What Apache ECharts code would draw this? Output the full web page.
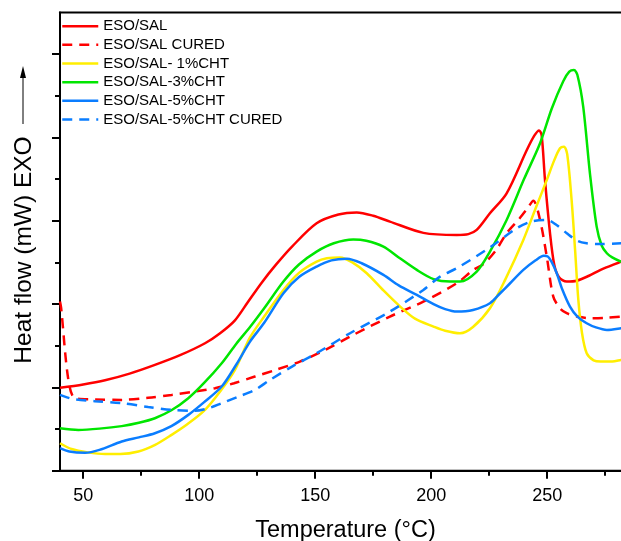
<!DOCTYPE html>
<html>
<head>
<meta charset="utf-8">
<script src="https://cdn.jsdelivr.net/npm/echarts@6/dist/echarts.min.js"></script>
<style>
	html, body { margin: 0; padding: 0; background: #fff; }
	#chart { width: 621px; height: 541px; }
</style>
</head>
<body>
<div id="chart"></div>
<script>
var xMajorTicks = [50, 100, 150, 200, 250];
var xMinorTicks = [75, 125, 175, 225, 275];
var yMajorTicks = [0, 2, 4, 6, 8, 10];
var yMinorTicks = [1, 3, 5, 7, 9];

var seriesNames = ['ESO/SAL', 'ESO/SAL CURED', 'ESO/SAL- 1%CHT', 'ESO/SAL-3%CHT', 'ESO/SAL-5%CHT', 'ESO/SAL-5%CHT CURED'];

var salX = [40, 50, 59.4, 70, 80.9, 92, 102.5, 109, 115.4, 121, 127, 133, 140, 150.6, 160, 167.9, 175, 182.2, 196.6, 211, 216, 219.6, 225.3, 232.5, 241.2, 244.5, 246.5, 247.6, 249, 251.2, 253, 255, 258.4, 262.7, 268, 273, 281.8, 286];
var salY = [1.99, 2.07, 2.17, 2.33, 2.54, 2.78, 3.06, 3.30, 3.61, 4.05, 4.52, 4.94, 5.38, 5.94, 6.15, 6.20, 6.12, 5.98, 5.71, 5.66, 5.68, 5.78, 6.18, 6.66, 7.70, 8.05, 8.17, 8.05, 7.0, 5.7, 4.95, 4.65, 4.54, 4.56, 4.68, 4.82, 5.02, 5.12];

var salCuredX = [40, 40.5, 43.6, 46.5, 55, 66.6, 78, 88.1, 98, 106.8, 115, 124, 133, 143.4, 155, 165, 182.2, 196.6, 211, 218.1, 222.5, 228, 232.5, 238, 241.5, 244, 246.9, 249.8, 252.6, 255.5, 258.4, 263, 268.4, 275, 286];
var salCuredY = [4.06, 3.9, 2.18, 1.74, 1.71, 1.70, 1.75, 1.82, 1.90, 1.98, 2.10, 2.26, 2.42, 2.62, 2.92, 3.22, 3.70, 4.06, 4.50, 4.82, 4.96, 5.3, 5.70, 6.05, 6.3, 6.48, 6.02, 5.14, 4.18, 3.9, 3.78, 3.70, 3.66, 3.67, 3.72];

var cht1X = [40, 45, 52, 59.4, 66, 73.8, 81, 88.1, 95, 102.5, 109, 115.4, 121.9, 128, 136.3, 143, 150.6, 155, 160.7, 166, 172.2, 179, 186.6, 193, 201, 206, 212.4, 218, 225.3, 232, 239.7, 245, 249.8, 253, 255.5, 257.2, 258.6, 260.5, 262, 263.4, 265, 267, 270, 273, 278, 281.8, 286];
var cht1Y = [0.66, 0.52, 0.44, 0.40, 0.40, 0.46, 0.62, 0.86, 1.12, 1.46, 1.90, 2.42, 3.20, 3.70, 4.34, 4.75, 5.02, 5.10, 5.12, 5.00, 4.74, 4.35, 3.94, 3.65, 3.46, 3.36, 3.30, 3.45, 3.90, 4.60, 5.54, 6.30, 6.98, 7.45, 7.74, 7.78, 7.60, 6.50, 5.30, 4.10, 3.30, 2.82, 2.65, 2.62, 2.62, 2.66, 2.70];

var cht3X = [40, 47.9, 57, 66.6, 74, 80.9, 88, 95.3, 102, 109.7, 116, 121.9, 128, 136.3, 143, 150.6, 158, 166.4, 172, 179.4, 186, 193.8, 201, 208.1, 212.4, 219.6, 225.3, 232.5, 240, 246.9, 252, 256.9, 259.5, 261.5, 263, 265.5, 268.4, 271.3, 273.5, 275.7, 278, 281.8, 286];
var cht3Y = [1.02, 0.98, 1.01, 1.07, 1.15, 1.26, 1.45, 1.74, 2.10, 2.58, 3.05, 3.45, 3.90, 4.54, 4.95, 5.26, 5.46, 5.55, 5.52, 5.38, 5.12, 4.82, 4.60, 4.54, 4.54, 4.78, 5.26, 6.02, 7.00, 7.86, 8.70, 9.35, 9.58, 9.62, 9.50, 8.74, 7.14, 5.86, 5.40, 5.22, 5.12, 5.02, 4.96];

var cht5X = [40, 44, 50.8, 57, 66.6, 74, 80.9, 88, 95.3, 102, 109.7, 116, 121.9, 128, 136.3, 143, 150.6, 157, 163.6, 170, 179.4, 186, 193.8, 201, 206, 211, 218, 225.3, 229.7, 234, 239.7, 245, 248.5, 250.3, 252, 254.1, 256.5, 259.8, 263, 267, 271, 275.7, 281.8, 286];
var cht5Y = [0.54, 0.46, 0.43, 0.50, 0.70, 0.80, 0.90, 1.07, 1.34, 1.64, 2.02, 2.55, 3.10, 3.55, 4.26, 4.65, 4.90, 5.05, 5.09, 4.98, 4.70, 4.45, 4.22, 4.00, 3.88, 3.82, 3.86, 4.02, 4.26, 4.50, 4.82, 5.05, 5.16, 5.14, 5.00, 4.74, 4.35, 3.94, 3.70, 3.54, 3.44, 3.38, 3.42, 3.46];

var cht5CuredX = [40, 43, 46.5, 55, 66.6, 78, 88.1, 98.2, 104, 109.7, 117, 124, 130.5, 140, 150.6, 165, 182.2, 196.6, 203.8, 211, 225.3, 236.8, 243, 249.8, 254, 258.4, 263, 267, 272, 281.8, 286];
var cht5CuredY = [1.82, 1.76, 1.71, 1.67, 1.62, 1.53, 1.46, 1.44, 1.50, 1.62, 1.78, 1.94, 2.18, 2.50, 2.82, 3.30, 3.82, 4.34, 4.66, 4.86, 5.36, 5.82, 5.98, 6.02, 5.90, 5.70, 5.52, 5.46, 5.44, 5.46, 5.47];

var colors = ['#ff0000', '#ff0000', '#ffee00', '#00e600', '#0a7dff', '#0a7dff'];

function pairs(xs, ys) {
	var out = [];
	for (var i = 0; i < xs.length; i++) {
		out.push([xs[i], ys[i]]);
	}
	return out;
}

function makeSeries(i, xs, ys, dashed) {
	return {
		name: seriesNames[i],
		type: 'line',
		data: pairs(xs, ys),
		smooth: 0.3,
		symbol: 'none',
		clip: true,
		lineStyle: {
			color: colors[i],
			width: 2.5,
			type: dashed ? [10, 7] : 'solid'
		},
		itemStyle: { color: colors[i] }
	};
}

var font = 'Arial, "Liberation Sans", sans-serif';
var axisLine = { show: true, lineStyle: { color: '#000', width: 2 } };

var option = {
	animation: false,
	backgroundColor: '#fff',
	grid: {
		left: 60,
		right: -10,
		top: 12.5,
		bottom: 70.3,
		outerBoundsMode: 'none',
		containLabel: false,
		show: true,
		borderColor: '#000',
		borderWidth: 2
	},
	legend: {
		orient: 'vertical',
		left: 61,
		top: 17.2,
		padding: 0,
		itemWidth: 36,
		itemHeight: 18,
		itemGap: 0.65,
		data: seriesNames,
		itemStyle: { opacity: 0, borderWidth: 0 },
		lineStyle: { width: 2.5 },
		textStyle: { fontFamily: font, fontSize: 15, color: '#000', lineHeight: 18 }
	},
	xAxis: [{
		type: 'value',
		min: 40,
		max: 286.1,
		axisLine: axisLine,
		axisTick: { customValues: xMajorTicks, length: 8, lineStyle: { color: '#000', width: 2 } },
		axisLabel: { customValues: xMajorTicks, fontFamily: font, fontSize: 18, color: '#000', margin: 16 },
		splitLine: { show: false },
		name: 'Temperature (°C)',
		nameLocation: 'middle',
		nameGap: 48,
		nameTextStyle: { fontFamily: font, fontSize: 23.5, color: '#000' }
	}, {
		type: 'value',
		position: 'bottom',
		min: 40,
		max: 286.1,
		axisLine: { show: false },
		axisTick: { customValues: xMinorTicks, length: 5, lineStyle: { color: '#000', width: 2 } },
		axisLabel: { show: false },
		splitLine: { show: false }
	}],
	yAxis: [{
		type: 'value',
		min: 0,
		max: 11,
		axisLine: axisLine,
		axisTick: { customValues: yMajorTicks, length: 8, lineStyle: { color: '#000', width: 2 } },
		axisLabel: { show: false },
		splitLine: { show: false }
	}, {
		type: 'value',
		position: 'left',
		min: 0,
		max: 11,
		axisLine: { show: false },
		axisTick: { customValues: yMinorTicks, length: 5, lineStyle: { color: '#000', width: 2 } },
		axisLabel: { show: false },
		splitLine: { show: false }
	}],
	graphic: [{
		type: 'text',
		x: 24,
		y: 250,
		rotation: Math.PI / 2,
		style: {
			text: 'Heat flow (mW) EXO',
			font: '24.5px ' + font,
			fill: '#000',
			align: 'center',
			verticalAlign: 'middle'
		}
	}, {
		type: 'line',
		shape: { x1: 23, y1: 124, x2: 23, y2: 76 },
		style: { stroke: '#000', lineWidth: 1 }
	}, {
		type: 'polygon',
		shape: { points: [[20, 78], [26, 78], [23, 66]] },
		style: { fill: '#000' }
	}],
	series: [
		makeSeries(0, salX, salY, false),
		makeSeries(1, salCuredX, salCuredY, true),
		makeSeries(2, cht1X, cht1Y, false),
		makeSeries(3, cht3X, cht3Y, false),
		makeSeries(4, cht5X, cht5Y, false),
		makeSeries(5, cht5CuredX, cht5CuredY, true)
	]
};

var myChart = echarts.init(document.getElementById('chart'));
myChart.setOption(option);
</script>
</body>
</html>
